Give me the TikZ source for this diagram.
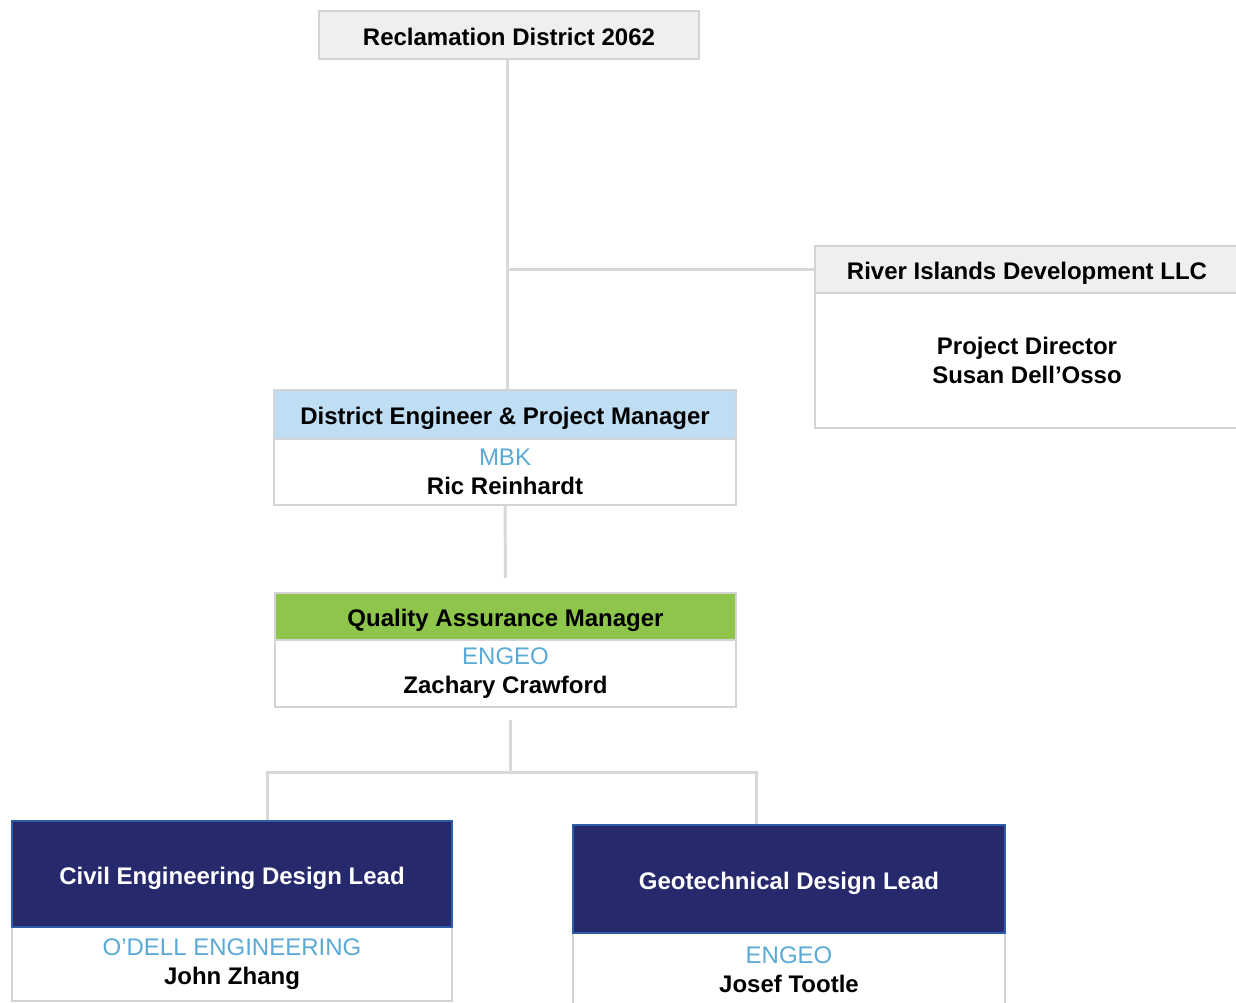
\documentclass[tikz,border=0pt]{standalone}
\usepackage{fontspec}
\setmainfont{Liberation Sans}
\usetikzlibrary{calc}
\definecolor{boxline}{HTML}{D4D4D4}
\definecolor{conncol}{HTML}{D9D9D9}
\definecolor{hdrgray}{HTML}{EFEFEF}
\definecolor{hdrblue}{HTML}{BFDDF3}
\definecolor{hdrgreen}{HTML}{8DC64B}
\definecolor{navy}{HTML}{27296D}
\definecolor{navyline}{HTML}{2E5CA8}
\definecolor{co}{HTML}{5BAAD6}
\begin{document}
\begin{tikzpicture}[x=1pt,y=1pt,
  box/.style={draw=boxline, line width=2pt, anchor=north west, inner sep=0pt,
    align=center, font=\fontsize{24}{29}\selectfont\bfseries, text=black},
  hdr/.style={box, text depth=0pt, text height=20pt},
  navybox/.style={hdr, fill=navy, draw=navyline, text=white},
  conn/.style={draw=conncol, line width=3pt}]
\useasboundingbox[fill=white] (0,0) rectangle (1236,-1002);

% top
\node[hdr, fill=hdrgray, minimum width=380pt, minimum height=48pt] (rd) at (318,-10) {Reclamation District 2062};

% River Islands
\node[box, fill=white, minimum width=424pt, minimum height=135pt] (ribody) at (814,-292) {Project Director\\Susan Dell’Osso};
\node[hdr, fill=hdrgray, minimum width=424pt, minimum height=47pt] (rihead) at (814,-245) {River Islands Development LLC};

% District Engineer
\node[box, fill=white, minimum width=462pt, minimum height=66pt] (debody) at (273,-438) {{\color{co}\mdseries MBK}\\Ric Reinhardt};
\node[hdr, fill=hdrblue, minimum width=462pt, minimum height=49pt] (dehead) at (273,-389) {District Engineer \& Project Manager};

% QA
\node[box, fill=white, minimum width=461pt, minimum height=67pt] (qabody) at (274,-639) {{\color{co}\mdseries ENGEO}\\Zachary Crawford};
\node[hdr, fill=hdrgreen, minimum width=461pt, minimum height=47pt] (qahead) at (274,-592) {Quality Assurance Manager};

% Civil
\node[box, fill=white, minimum width=440pt, minimum height=74pt] (civbody) at (11,-926) {{\color{co}\mdseries O’DELL ENGINEERING}\\John Zhang};
\node[navybox, minimum width=440pt, minimum height=106pt] (civhead) at (11,-820) {Civil Engineering Design Lead};

% Geotech
\node[box, fill=white, minimum width=432pt, minimum height=74pt] (geobody) at (572,-932) {{\color{co}\mdseries ENGEO}\\Josef Tootle};
\node[navybox, minimum width=432pt, minimum height=108pt] (geohead) at (572,-824) {Geotechnical Design Lead};

% connectors
\coordinate (top) at (507,-60);
\coordinate (junc) at (top |- rihead.west);
\draw[conn] (top) -- (top |- dehead.north);
\draw[conn] (junc) -- (rihead.west);
\draw[conn] (debody.south) -- ([yshift=14pt]qahead.north);
\coordinate (qaout) at (510,-720);
\coordinate (bus) at (510,-772);
\coordinate (lbus) at (267,-772);
\coordinate (rbus) at (756,-772);
\draw[conn] (qaout) -- (bus);
\draw[conn] (civhead.north -| lbus) -- (lbus) -- (rbus) -- (rbus |- geohead.north);
\end{tikzpicture}
\end{document}
